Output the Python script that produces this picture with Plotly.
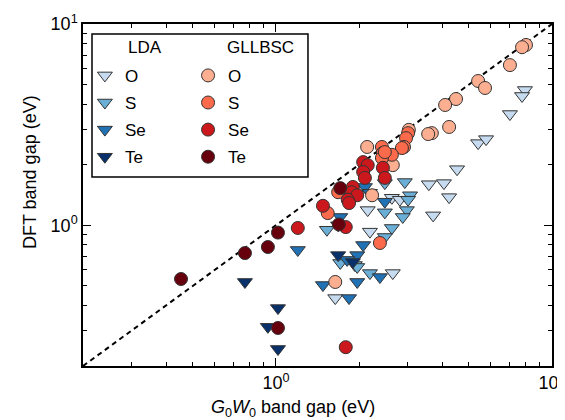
import plotly.graph_objects as go
import math

# ---- data (G0W0 gap, DFT gap) in eV ----
lda_o_x = [7.98, 7.79, 7.04, 5.40, 5.77, 4.53, 3.58, 4.06, 4.24, 3.71, 2.63, 2.81, 2.15, 2.19, 2.65, 1.64]
lda_o_y = [4.70, 4.39, 3.57, 2.56, 2.68, 1.90, 1.60, 1.62, 1.38, 1.12, 1.37, 1.34, 1.19, 0.93, 0.579, 0.435]

lda_s_x = [2.48, 2.93, 3.06, 3.01, 2.48, 2.98, 2.88, 2.63, 2.48, 1.53, 1.71, 1.93, 2.19, 1.97]
lda_s_y = [1.62, 1.64, 1.41, 1.34, 1.16, 1.19, 1.10, 0.97, 0.875, 0.95, 0.650, 0.635, 0.579, 0.621]

lda_se_x = [2.10, 2.19, 2.48, 1.71, 2.07, 1.20, 1.97, 1.81, 2.38, 1.48, 1.97, 1.84]
lda_se_y = [1.55, 1.45, 1.31, 1.10, 0.798, 0.754, 0.711, 0.673, 0.553, 0.505, 0.523, 0.435]

lda_te_x = [1.68, 1.90, 1.68, 0.772, 1.017, 0.935, 1.017]
lda_te_y = [0.711, 0.657, 1.00, 0.523, 0.388, 0.313, 0.243]

gll_o_x = [8.05, 7.79, 7.04, 5.40, 5.72, 4.49, 4.10, 4.24, 3.67, 3.56, 3.03, 2.14, 2.65, 2.23, 1.64]
gll_o_y = [7.87, 7.67, 6.25, 5.21, 4.81, 4.24, 3.96, 3.08, 2.87, 2.84, 2.98, 2.45, 1.99, 1.41, 0.523]

gll_s_x = [3.01, 2.96, 2.91, 2.86, 2.42, 2.44, 2.63, 2.42, 2.48, 1.54, 2.38, 1.68]
gll_s_y = [2.87, 2.71, 2.45, 2.42, 2.45, 2.29, 2.24, 2.16, 2.31, 1.15, 0.817, 1.46]

gll_se_x = [2.07, 2.15, 2.07, 2.10, 2.44, 2.48, 1.90, 1.88, 1.97, 1.82, 1.84, 1.48, 1.79, 1.20, 1.79]
gll_se_y = [2.06, 1.99, 1.84, 1.72, 1.93, 1.72, 1.55, 1.46, 1.41, 1.34, 1.29, 1.25, 0.98, 0.97, 0.248]

gll_te_x = [1.71, 1.69, 0.453, 0.772, 0.935, 1.017, 1.017]
gll_te_y = [1.53, 1.01, 0.541, 0.728, 0.780, 0.92, 0.309]

labels = ["O", "S", "Se", "Te"]
headers = ["LDA", "GLLBSC"]
x_title = "<i>G</i><sub>0</sub><i>W</i><sub>0</sub> band gap (eV)"
y_title = "DFT band gap (eV)"
blues = ["#c6dbef", "#6baed6", "#2171b5", "#08306b"]
reds = ["#fcae91", "#fb6a4a", "#cb181d", "#67000d"]

axis_min, axis_max = 0.2, 10.0
tick_vals = [1, 10]
tick_text = ["10<sup>0</sup>", "10<sup>1</sup>"]
minor_vals = [0.2, 0.3, 0.4, 0.5, 0.6, 0.7, 0.8, 0.9, 2, 3, 4, 5, 6, 7, 8, 9]

FONT = "Liberation Sans, Arial, Helvetica, sans-serif"

fig = go.Figure()

# diagonal y = x
fig.add_trace(go.Scatter(x=[axis_min, axis_max], y=[axis_min, axis_max], mode="lines",
                         line=dict(color="black", width=2, dash="5px,4px"),
                         showlegend=False, hoverinfo="skip"))

lda = [(lda_o_x, lda_o_y), (lda_s_x, lda_s_y), (lda_se_x, lda_se_y), (lda_te_x, lda_te_y)]
gll = [(gll_o_x, gll_o_y), (gll_s_x, gll_s_y), (gll_se_x, gll_se_y), (gll_te_x, gll_te_y)]

for i, (xs, ys) in enumerate(lda):
    fig.add_trace(go.Scatter(x=xs, y=ys, mode="markers", name=labels[i],
                             legend="legend", legendgroup="l" + labels[i],
                             marker=dict(symbol="triangle-down", size=13, color=blues[i],
                                         line=dict(color="#333333", width=1))))
for i, (xs, ys) in enumerate(gll):
    fig.add_trace(go.Scatter(x=xs, y=ys, mode="markers", name=labels[i],
                             legend="legend2", legendgroup="g" + labels[i],
                             marker=dict(symbol="circle", size=13, color=reds[i],
                                         line=dict(color="#333333", width=1))))

axis_common = dict(type="log", range=[math.log10(axis_min), math.log10(axis_max)],
                   automargin=False, ticklabeloverflow="allow",
                   showgrid=False, zeroline=False, showline=True, linecolor="black", linewidth=1.5,
                   mirror="ticks", ticks="inside", ticklen=8, tickwidth=1.2, tickcolor="black",
                   tickvals=tick_vals, ticktext=tick_text,
                   tickfont=dict(size=18, color="black", family=FONT),
                   minor=dict(ticks="inside", ticklen=4, tickwidth=1, tickcolor="black",
                              tickvals=minor_vals, showgrid=False))

legend_common = dict(yanchor="top", xanchor="left", bgcolor="rgba(0,0,0,0)",
                     borderwidth=0, tracegroupgap=2, font=dict(size=17))

# page body has an 8px margin, so the figure is 557x412 to fit the 565x420 window
fig.update_layout(
    width=557, height=412,
    margin=dict(l=75, r=13, t=16, b=54),
    paper_bgcolor="white", plot_bgcolor="white",
    font=dict(family=FONT, color="black", size=17),
    xaxis=axis_common,
    yaxis=axis_common,
    legend=dict(legend_common, x=0.004, y=0.901),
    legend2=dict(legend_common, x=0.224, y=0.901),
    shapes=[dict(type="rect", xref="paper", yref="paper", x0=0.0192, x1=0.4797, y0=0.5526, y1=0.9708,
                 line=dict(color="black", width=1.5), fillcolor="rgba(0,0,0,0)")],
    annotations=[
        dict(text=headers[0], xref="paper", yref="paper", x=0.0917, y=0.930, xanchor="left",
             yanchor="middle", showarrow=False, font=dict(size=17)),
        dict(text=headers[1], xref="paper", yref="paper", x=0.3028, y=0.930, xanchor="left",
             yanchor="middle", showarrow=False, font=dict(size=17)),
        dict(text=x_title, xref="paper", yref="paper", x=0.448, y=-0.123, xanchor="center",
             yanchor="middle", showarrow=False, font=dict(size=18)),
        dict(text=y_title, xref="paper", yref="paper", x=-0.113, y=0.567, xanchor="center",
             yanchor="middle", textangle=-90, showarrow=False, font=dict(size=18)),
    ],
)

fig.write_html("out.html")
